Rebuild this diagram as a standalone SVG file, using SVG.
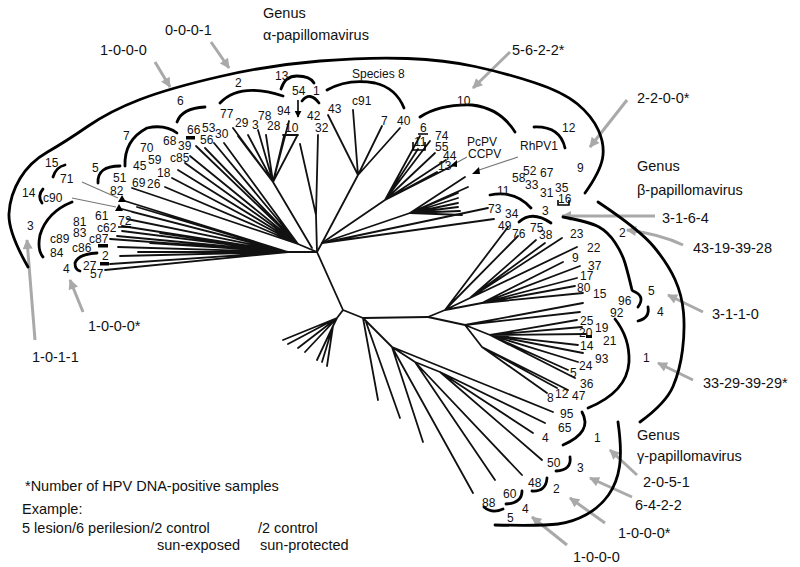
<svg xmlns="http://www.w3.org/2000/svg" width="800" height="567" viewBox="0 0 800 567">
<defs>
<style>
text{font-family:"Liberation Sans",Arial,sans-serif;fill:#111}
.lb{font-size:12px}
.an{font-size:14.5px}
.t{fill:none;stroke:#111;stroke-width:1.8;stroke-linecap:round;stroke-linejoin:round}
.arc{fill:none;stroke:#000;stroke-width:2.8;stroke-linecap:round}
.ga{fill:none;stroke:#a9a9a9;stroke-width:3;marker-end:url(#gh)}
.gl{fill:none;stroke:#777;stroke-width:1.2}
.mk{fill:#000}
</style>
<marker id="gh" viewBox="0 0 10 10" refX="9" refY="5" markerWidth="11" markerHeight="10" markerUnits="userSpaceOnUse" orient="auto"><path d="M0,0 L10,5 L0,10 z" fill="#a9a9a9"/></marker>
<marker id="bh" viewBox="0 0 10 10" refX="9" refY="5" markerWidth="7" markerHeight="7" markerUnits="userSpaceOnUse" orient="auto"><path d="M0,0 L10,5 L0,10 z" fill="#000"/></marker>
</defs>
<rect width="800" height="567" fill="#fff"/>

<g id="connectors">
<path class="t" d="M317,252 L343,310 L363,318 L428,317 M343,310 L337,318 L283,340 M337,318 L288,344 M337,318 L298,348 M337,318 L305,352 M337,318 L333,326 L317,360 M333,326 L322,362 M333,326 L327,366"/>
<path class="t" d="M317,252 L288,252 M288,252 L137,207 M288,252 L132,212 M288,252 L127,219 M288,252 L122,226 M288,252 L122,231 M288,252 L117,236 M288,252 L110,239 M288,252 L118,247 M288,252 L138,252 M288,252 L120,256 M288,252 L110,264 M288,252 L105,270 M288,252 L150,243 M288,252 L160,233 M288,252 L125,201 M288,252 L122,209"/>
<path class="t" d="M317,252 L298,244 M298,244 L132,188 M298,244 L165,187 M298,244 L172,178 M298,244 L178,170 M298,244 L185,163 M298,244 L190,156 M298,244 L197,147 M298,244 L196,146 M298,244 L205,148 M298,244 L214,143 M298,244 L224,143"/>
<path class="t" d="M312,248 L273,182 M273,182 L233,128 M273,182 L238,136 M273,182 L248,135 M273,182 L258,130 M273,182 L266,135 M273,182 L284,136 M273,182 L297,136 M273,182 L289,121 M283,135 L298,135"/>
<path class="t" d="M317,252 L316,215 L318,135 M316,215 L300,144"/>
<path class="t" d="M317,252 L322,243 L358,175 M358,175 L328,115 M358,175 L353,110 M358,175 L382,126 M358,175 L400,128"/>
<path class="t" d="M322,243 L385,200 M385,200 L420,136 M385,200 L430,141 M385,200 L418,149 M385,200 L435,153 M385,200 L446,160 M385,200 L437,172 M385,200 L452,166"/>
<path class="t" d="M322,243 L410,213 M410,213 L465,177 M410,213 L468,187 M410,213 L458,193 M410,213 L458,198 M410,213 L458,203 M410,213 L458,207 M410,213 L460,211 M410,213 L462,215"/>
<path class="t" d="M322,243 L488,208 M322,243 L494,219"/>
<path class="t" d="M428,317 L445,310 M445,310 L508,227 M445,310 L518,236 M445,310 L470,298 L536,240 M470,298 L545,243 M470,298 L562,238 M470,298 L577,247 M445,310 L482,303 L563,262 M482,303 L580,266 M482,303 L577,278 M482,303 L575,286 M482,303 L583,293"/>
<path class="t" d="M428,317 L465,325 M465,325 L583,303 M465,325 L580,312 M465,325 L490,335 L577,320 M490,335 L582,327 M490,335 L586,334 M490,335 L578,345 M490,335 L583,353 M490,335 L578,362 M490,335 L568,370 M490,335 L575,378 M465,325 L482,347 L557,388 M482,347 L547,393 M482,347 L568,390"/>
<path class="t" d="M363,318 L378,400 M366,322 L400,418 M363,318 L392,347 L473,493 M392,347 L423,442 M392,347 L553,412 M392,347 L415,362 L495,480 M415,362 L522,475 M415,362 L440,372 L542,460 M440,372 L533,433 M440,372 L545,423"/>
<path class="ga" d="M155,62 L170,87"/>
<path class="ga" d="M211,42 L229,68"/>
<path class="ga" d="M510,52 L473,88"/>
<path class="ga" d="M627,100 L590,147"/>
<path class="ga" d="M655,216 L562,216"/>
<path class="ga" d="M683,245 Q660,234 627,230"/>
<path class="ga" d="M703,312 L668,295"/>
<path class="ga" d="M693,380 L658,363"/>
<path class="ga" d="M637,475 L610,450"/>
<path class="ga" d="M632,497 L590,478"/>
<path class="ga" d="M605,523 L570,498"/>
<path class="ga" d="M567,545 L532,517"/>
<path class="ga" d="M35,340 L27,240"/>
<path class="ga" d="M83,312 L70,280"/>
<path class="gl" d="M82,182 L118,198 M72,198 L116,207 M467,157 L456,163 M518,157 L479,170"/>
<path fill="none" stroke="#000" stroke-width="1.6" marker-end="url(#bh)" d="M298,100 L298,117"/>
</g>

<g id="markers">
<polygon class="mk" points="118,202 122,195 126,202"/>
<polygon class="mk" points="115,211 119,204 123,211"/>
<polygon class="mk" points="450,166 457,160 457,167"/>
<polygon class="mk" points="472,174 479,167 480,174"/>
<rect class="mk" x="186" y="136" width="9" height="3.5"/>
<rect class="mk" x="98" y="244" width="10" height="3.5"/>
<rect class="mk" x="100" y="262" width="9" height="3.5"/>
<rect class="mk" x="586" y="335" width="6" height="3"/>
<path fill="none" stroke="#000" stroke-width="1.6" d="M558,200 L558,205 L569,205 L569,200 M418,134 L428,134 M118,227 L131,227 M413,142 L413,150 L425,150 L425,142"/>
</g>

<g id="alpha-genus">
<path class="arc" d="M28,267 Q8,232 9,213.5 Q10,195 20,178.5 Q30,162 47.5,152 Q65,142 87.5,126.5 Q110,111 140,99.5 Q170,88 220,76.5 Q270,65 320,61 Q370,57 407.5,58.5 Q445,60 475,66.5 Q505,73 534,82.5 Q563,92 577.5,104 Q592,116 598.5,130.5 Q605,145 602.5,158.5 Q600,172 585,193"/>
<text class="an" x="263" y="18">Genus</text>
<text class="an" x="263" y="40">α-papillomavirus</text>
</g>
<g id="alpha-species">
<path class="arc" d="M220,103 Q240,82 283,96"/>
<path class="arc" d="M281,89 Q285,76 297,76 Q310,76 314,83"/>
<path class="arc" d="M302,101 Q310,91 319,103"/>
<path class="arc" d="M327,90 Q348,78 375,83 Q396,88 404,108"/>
<path class="arc" d="M420,117 Q440,104 472,105 Q500,108 515,132"/>
<path class="arc" d="M534,127 Q560,126 565,148"/>
<path class="arc" d="M177,122 Q182,108 205,107"/>
<path class="arc" d="M125,166 Q124,140 147,128 Q165,124 177,133"/>
<path class="arc" d="M98,183 Q97,166 120,166"/>
<path class="arc" d="M53,177 Q56,167 65,165"/>
<path class="arc" d="M43,189 Q37,196 42,203"/>
<path class="arc" d="M72,202 Q47,212 40,235 Q37,250 43,257"/>
<path class="arc" d="M97,253 Q78,254 75,263 Q75,270 80,271"/>
<path class="arc" d="M490,195 Q515,190 531,208"/>
<text class="lb" x="235" y="87">2</text>
<text class="lb" x="275" y="80">13</text>
<text class="lb" x="292" y="95">54</text>
<text class="lb" x="313" y="95">1</text>
<text class="lb" x="352" y="78">Species 8</text>
<text class="lb" x="177" y="105">6</text>
<text class="lb" x="220" y="118">77</text>
<text class="lb" x="235" y="127">29</text>
<text class="lb" x="252" y="129">3</text>
<text class="lb" x="258" y="120">78</text>
<text class="lb" x="267" y="130">28</text>
<text class="lb" x="277" y="115">94</text>
<text class="lb" x="285" y="132">10</text>
<text class="lb" x="307" y="120">42</text>
<text class="lb" x="315" y="132">32</text>
<text class="lb" x="328" y="113">43</text>
<text class="lb" x="352" y="105">c91</text>
<text class="lb" x="381" y="125">7</text>
<text class="lb" x="397" y="125">40</text>
<text class="lb" x="457" y="105">10</text>
<text class="lb" x="420" y="132">6</text>
<text class="lb" x="435" y="140">74</text>
<text class="lb" x="414" y="146">11</text>
<text class="lb" x="435" y="151">55</text>
<text class="lb" x="443" y="160">44</text>
<text class="lb" x="438" y="170">13</text>
<text class="lb" x="467" y="146">PcPV</text>
<text class="lb" x="468" y="158">CCPV</text>
<text class="lb" x="520" y="150">RhPV1</text>
<text class="lb" x="562" y="132">12</text>
<text class="lb" x="577" y="172">9</text>
<text class="lb" x="523" y="175">52</text>
<text class="lb" x="512" y="182">58</text>
<text class="lb" x="525" y="189">33</text>
<text class="lb" x="540" y="177">67</text>
<text class="lb" x="540" y="197">31</text>
<text class="lb" x="555" y="192">35</text>
<text class="lb" x="558" y="203">16</text>
<text class="lb" x="497" y="195">11</text>
<text class="lb" x="488" y="213">73</text>
<text class="lb" x="505" y="218">34</text>
<text class="lb" x="123" y="140">7</text>
<text class="lb" x="140" y="152">70</text>
<text class="lb" x="163" y="145">68</text>
<text class="lb" x="178" y="150">39</text>
<text class="lb" x="187" y="134">66</text>
<text class="lb" x="202" y="132">53</text>
<text class="lb" x="200" y="144">56</text>
<text class="lb" x="215" y="138">30</text>
<text class="lb" x="133" y="170">45</text>
<text class="lb" x="148" y="164">59</text>
<text class="lb" x="170" y="162">c85</text>
<text class="lb" x="157" y="177">18</text>
<text class="lb" x="92" y="172">5</text>
<text class="lb" x="113" y="182">51</text>
<text class="lb" x="132" y="187">69</text>
<text class="lb" x="147" y="188">26</text>
<text class="lb" x="110" y="195">82</text>
<text class="lb" x="45" y="167">15</text>
<text class="lb" x="60" y="183">71</text>
<text class="lb" x="22" y="197">14</text>
<text class="lb" x="43" y="202">c90</text>
<text class="lb" x="27" y="230">3</text>
<text class="lb" x="95" y="220">61</text>
<text class="lb" x="118" y="225">72</text>
<text class="lb" x="73" y="226">81</text>
<text class="lb" x="97" y="232">c62</text>
<text class="lb" x="73" y="237">83</text>
<text class="lb" x="50" y="243">c89</text>
<text class="lb" x="89" y="243">c87</text>
<text class="lb" x="72" y="252">c86</text>
<text class="lb" x="50" y="257">84</text>
<text class="lb" x="102" y="260">2</text>
<text class="lb" x="63" y="273">4</text>
<text class="lb" x="83" y="270">27</text>
<text class="lb" x="90" y="278">57</text>
</g>

<g id="beta-genus">
<path class="arc" d="M598,202 Q640,230 654,247 Q668,264 675,279.5 Q682,295 683.5,312.5 Q685,330 682.5,350 Q680,370 673,386.5 Q666,403 640,422"/>
<path class="arc" d="M563,217 Q590,222 599,227 Q608,232 615,242.5 Q622,253 625,263 Q628,273 632,290"/>
<path class="arc" d="M519,222 Q532,210 551,223"/>
<path class="arc" d="M633,291 Q646,296 638,307"/>
<path class="arc" d="M648,307 Q650,318 638,321"/>
<path class="arc" d="M615,319 Q630,338 629,362 Q627,392 588,408"/>
<text class="an" x="637" y="171">Genus</text>
<text class="an" x="637" y="195">β-papillomavirus</text>
<text class="lb" x="542" y="215">3</text>
<text class="lb" x="498" y="230">49</text>
<text class="lb" x="512" y="238">76</text>
<text class="lb" x="530" y="232">75</text>
<text class="lb" x="539" y="239">38</text>
<text class="lb" x="619" y="237">2</text>
<text class="lb" x="570" y="238">23</text>
<text class="lb" x="587" y="252">22</text>
<text class="lb" x="572" y="262">9</text>
<text class="lb" x="588" y="270">37</text>
<text class="lb" x="580" y="280">17</text>
<text class="lb" x="577" y="292">80</text>
<text class="lb" x="593" y="298">15</text>
<text class="lb" x="618" y="305">96</text>
<text class="lb" x="610" y="317">92</text>
<text class="lb" x="648" y="295">5</text>
<text class="lb" x="657" y="316">4</text>
<text class="lb" x="580" y="325">25</text>
<text class="lb" x="595" y="332">19</text>
<text class="lb" x="579" y="337">20</text>
<text class="lb" x="603" y="345">21</text>
<text class="lb" x="580" y="350">14</text>
<text class="lb" x="595" y="363">93</text>
<text class="lb" x="579" y="370">24</text>
<text class="lb" x="570" y="377">5</text>
<text class="lb" x="580" y="388">36</text>
<text class="lb" x="547" y="402">8</text>
<text class="lb" x="555" y="398">12</text>
<text class="lb" x="572" y="400">47</text>
<text class="lb" x="643" y="362">1</text>
</g>

<g id="gamma-genus">
<path class="arc" d="M618,422 Q622,450 619.5,466.5 Q617,483 608.5,495 Q600,507 586.5,514.5 Q573,522 558,524 Q543,526 495,525"/>
<path class="arc" d="M582,412 Q593,432 563,445"/>
<path class="arc" d="M570,457 Q572,470 556,471"/>
<path class="arc" d="M547,478 Q546,492 532,491"/>
<path class="arc" d="M522,491 Q522,503 506,504"/>
<path class="arc" d="M484,507 Q492,514 503,509"/>
<text class="an" x="637" y="440">Genus</text>
<text class="an" x="637" y="461">γ-papillomavirus</text>
<text class="lb" x="560" y="418">95</text>
<text class="lb" x="558" y="432">65</text>
<text class="lb" x="542" y="442">4</text>
<text class="lb" x="594" y="442">1</text>
<text class="lb" x="547" y="467">50</text>
<text class="lb" x="577" y="472">3</text>
<text class="lb" x="528" y="487">48</text>
<text class="lb" x="553" y="493">2</text>
<text class="lb" x="503" y="498">60</text>
<text class="lb" x="482" y="507">88</text>
<text class="lb" x="522" y="513">4</text>
<text class="lb" x="507" y="522">5</text>
</g>

<g id="sample-counts">
<text class="an" x="100" y="55">1-0-0-0</text>
<text class="an" x="165" y="35">0-0-0-1</text>
<text class="an" x="512" y="55">5-6-2-2*</text>
<text class="an" x="637" y="103">2-2-0-0*</text>
<text class="an" x="662" y="223">3-1-6-4</text>
<text class="an" x="693" y="253">43-19-39-28</text>
<text class="an" x="712" y="319">3-1-1-0</text>
<text class="an" x="703" y="388">33-29-39-29*</text>
<text class="an" x="643" y="487">2-0-5-1</text>
<text class="an" x="635" y="510">6-4-2-2</text>
<text class="an" x="618" y="538">1-0-0-0*</text>
<text class="an" x="573" y="562">1-0-0-0</text>
<text class="an" x="88" y="331">1-0-0-0*</text>
<text class="an" x="32" y="362">1-0-1-1</text>
</g>

<g id="legend">
<text class="an" x="25" y="491">*Number of HPV DNA-positive samples</text>
<text class="an" x="22" y="514">Example:</text>
<text class="an" x="22" y="533">5 lesion/6 perilesion/2 control</text>
<text class="an" x="258" y="533">/2 control</text>
<text class="an" x="157" y="550">sun-exposed</text>
<text class="an" x="260" y="550">sun-protected</text>
</g>
</svg>
